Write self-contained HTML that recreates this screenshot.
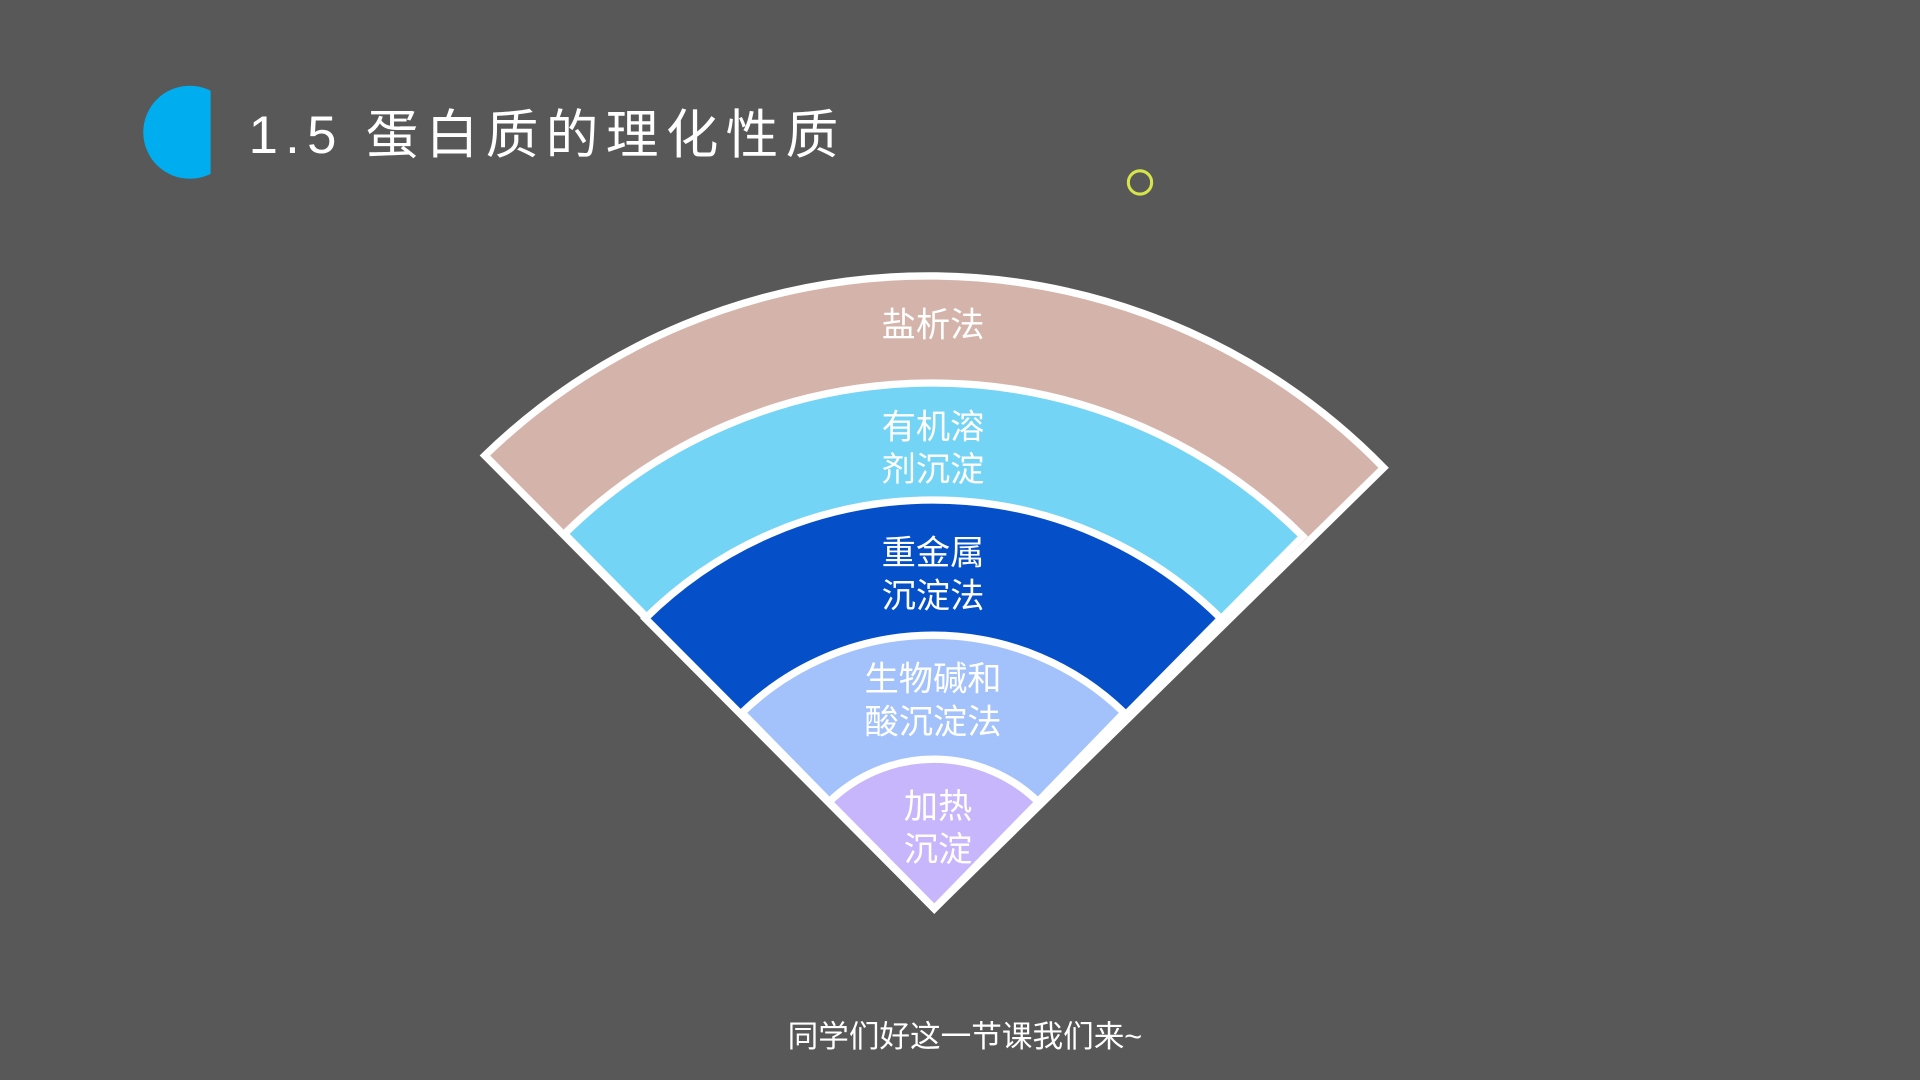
<!DOCTYPE html>
<html><head><meta charset="utf-8"><style>
html,body{margin:0;padding:0;background:#585858;width:1920px;height:1080px;overflow:hidden}
svg{display:block}
text{font-family:"Liberation Sans","Noto Sans CJK SC",sans-serif}
</style></head><body>
<svg width="1920" height="1080" viewBox="0 0 1568 882" xmlns="http://www.w3.org/2000/svg">
<rect width="1568" height="882" fill="#585858"/>
<defs><clipPath id="c"><rect x="100" y="60" width="72" height="100"/></clipPath></defs>
<circle cx="155" cy="108" r="38" fill="#00adef" clip-path="url(#c)"/>
<text x="203" y="125" font-size="43" fill="#ffffff" letter-spacing="6">1.5 蛋白质的理化性质</text>
<circle cx="931" cy="149" r="9.5" fill="none" stroke="#d6e64a" stroke-width="2.5"/>
<g stroke="#ffffff" stroke-width="6" stroke-linejoin="miter">
<path d="M763 742 L396 372 A520 520 0 0 1 1130 382 Z" fill="#d4b4aa"/>
<path d="M763 742 L461 436 A428 428 0 0 1 1064 438 Z" fill="#74d4f5"/>
<path d="M763 742 L527 505 A334 334 0 0 1 997 505 Z" fill="#0550c8"/>
<path d="M763 742 L606 582 A224 224 0 0 1 918 582 Z" fill="#a3c2fb"/>
<path d="M763 742 L677 655 A122 122 0 0 1 848 655 Z" fill="#c7b6fb"/>
</g>
<g fill="#ffffff" font-size="28" text-anchor="middle">
<text x="762" y="275">盐析法</text>
<text x="762" y="358">有机溶</text>
<text x="762" y="393">剂沉淀</text>
<text x="762" y="461">重金属</text>
<text x="762" y="496">沉淀法</text>
<text x="762" y="564">生物碱和</text>
<text x="762" y="599">酸沉淀法</text>
<text x="766" y="668">加热</text>
<text x="766" y="703">沉淀</text>
</g>
<text x="788" y="855" font-size="25" fill="#ffffff" text-anchor="middle">同学们好这一节课我们来~</text>
</svg>
</body></html>
